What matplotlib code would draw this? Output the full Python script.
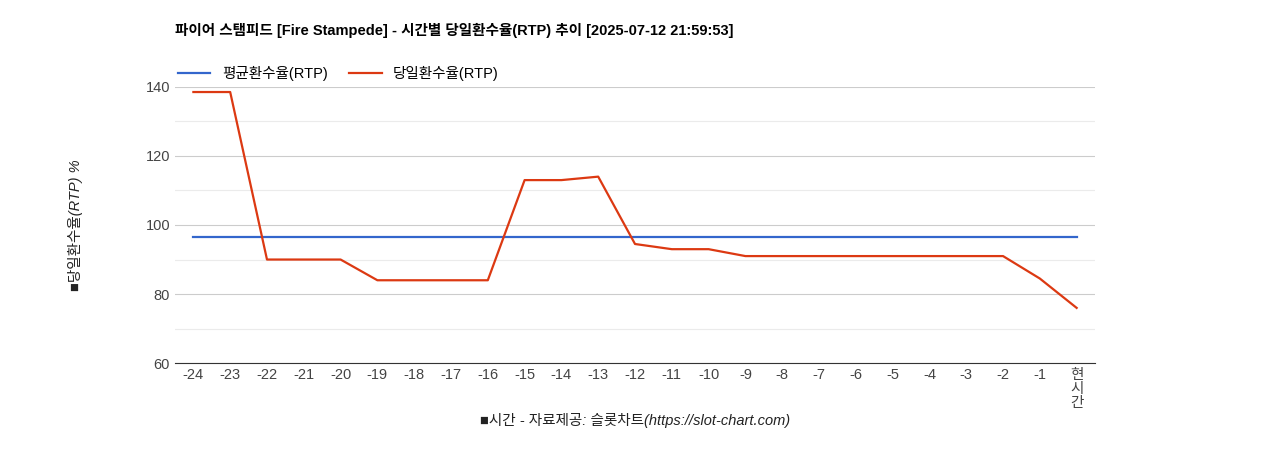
import matplotlib
matplotlib.use("Agg")
import matplotlib.pyplot as plt

plt.rcParams["font.family"] = ["Liberation Sans", "Noto Sans CJK JP", "Noto Sans CJK KR",
                               "Noto Sans CJK SC", "Noto Sans CJK TC", "DejaVu Sans"]

LABELS = ["-24", "-23", "-22", "-21", "-20", "-19", "-18", "-17", "-16", "-15", "-14", "-13",
          "-12", "-11", "-10", "-9", "-8", "-7", "-6", "-5", "-4", "-3", "-2", "-1", "현\n시\n간"]
DAILY = [138.5, 138.5, 90, 90, 90, 84, 84, 84, 84, 113, 113, 114,
         94.5, 93, 93, 91, 91, 91, 91, 91, 91, 91, 91, 84.5, 76]
AVG = [96.5] * len(LABELS)

fig = plt.figure(figsize=(12.68, 4.5), dpi=100)
ax = fig.add_axes([0.138, 0.193, 0.7256, 0.614])
x = range(len(LABELS))
ax.plot(x, AVG, color="#3366cc", lw=1.6, label="평균환수율(RTP)")
ax.plot(x, DAILY, color="#dc3912", lw=1.6, label="당일환수율(RTP)")

ax.set_xlim(-0.5, len(LABELS) - 0.5)
ax.set_ylim(60, 140)
ax.set_yticks([60, 80, 100, 120, 140])
ax.set_yticks([70, 90, 110, 130], minor=True)
ax.grid(axis="y", which="major", color="#cccccc", lw=0.8)
ax.grid(axis="y", which="minor", color="#ebebeb", lw=0.8)
ax.tick_params(which="both", length=0, labelsize=10.5, colors="#444444")
ax.set_xticks(list(x))
ax.set_xticklabels(LABELS, linespacing=1.0, va="top")
for s in ax.spines.values():
    s.set_visible(False)
ax.spines["bottom"].set_visible(True)
ax.spines["bottom"].set_color("#333333")
ax.set_axisbelow(True)

ax.set_ylabel("■당일환수율(RTP) %", style="italic", fontsize=10.5, color="#222222", labelpad=45)
ax.set_xlabel("■시간 - 자료제공: 슬롯차트(https://slot-chart.com)", style="italic",
              fontsize=10.5, color="#222222", labelpad=2)

fig.text(175 / 1268, 1 - 30 / 450, "파이어 스탬피드 [Fire Stampede] - 시간별 당일환수율(RTP) 추이 [2025-07-12 21:59:53]",
         fontsize=10.5, fontweight="bold", va="center")
ax.legend(loc="lower left", bbox_to_anchor=(-0.003, 1.0), ncol=2, frameon=False,
          fontsize=10.5, handlelength=2.2, borderaxespad=0, columnspacing=1.5)

fig.savefig("out.png", dpi=100)
